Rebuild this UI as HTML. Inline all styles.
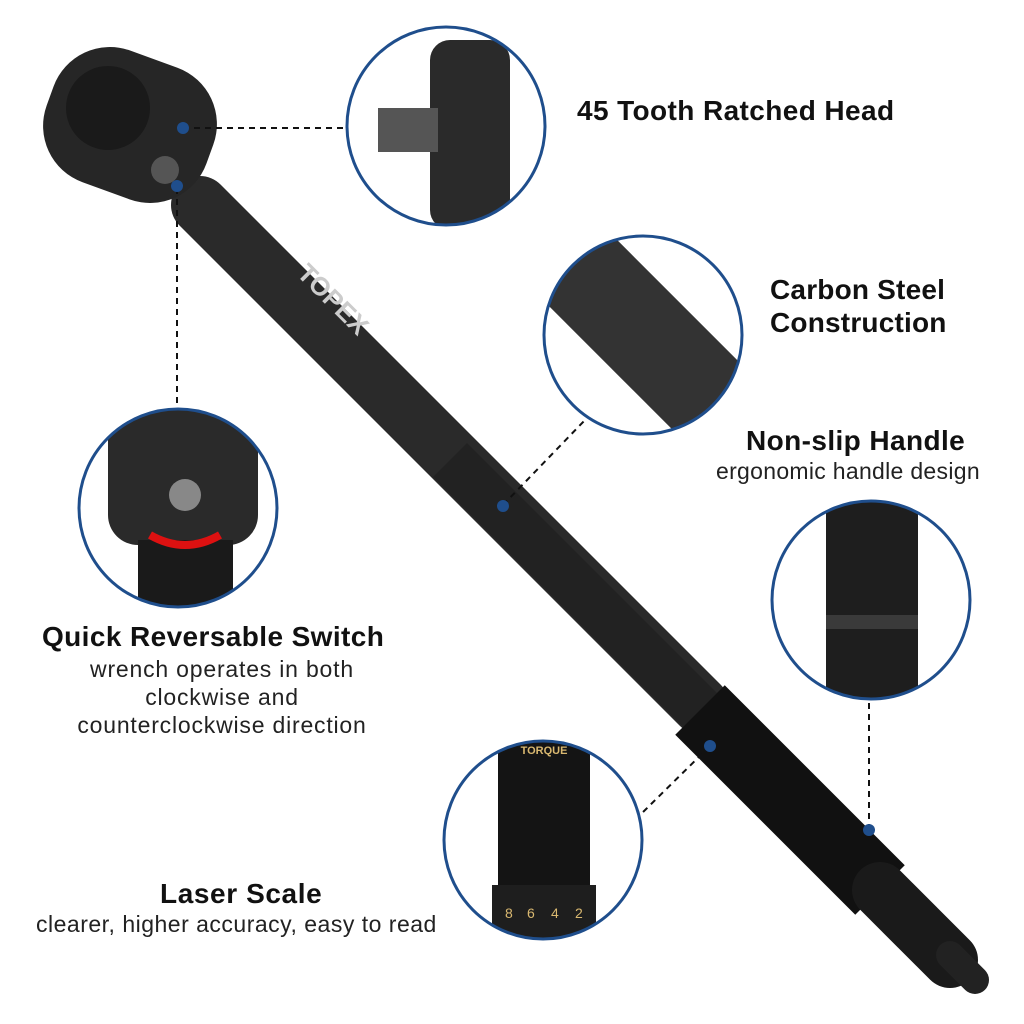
<!DOCTYPE html>
<html><head><meta charset="utf-8"><style>
body{margin:0;background:#fff;}
.t{position:absolute;font-family:"Liberation Sans",sans-serif;color:#111;white-space:nowrap;}
.b{font-weight:bold;font-size:28px;letter-spacing:0.9px;}
.s{font-size:23px;color:#222;letter-spacing:0.8px;}
</style></head><body>
<div style="position:relative;width:1024px;height:1024px;overflow:hidden">
<svg width="1024" height="1024" style="position:absolute;left:0;top:0">
<defs>
<clipPath id="c1"><circle cx="446" cy="126" r="99"/></clipPath>
<clipPath id="c2"><circle cx="643" cy="335" r="99"/></clipPath>
<clipPath id="c3"><circle cx="178" cy="508" r="99"/></clipPath>
<clipPath id="c4"><circle cx="871" cy="600" r="99"/></clipPath>
<clipPath id="c5"><circle cx="543" cy="840" r="99"/></clipPath>
</defs>
<line x1="200" y1="205" x2="700" y2="705" stroke="#2a2a2a" stroke-width="58" stroke-linecap="round"/>
<line x1="450" y1="460" x2="700" y2="710" stroke="#222" stroke-width="48"/>
<line x1="700" y1="710" x2="880" y2="890" stroke="#111" stroke-width="70"/>
<line x1="880" y1="890" x2="950" y2="960" stroke="#1a1a1a" stroke-width="56" stroke-linecap="round"/>
<line x1="950" y1="955" x2="975" y2="980" stroke="#222" stroke-width="28" stroke-linecap="round"/>
<rect x="45" y="55" width="170" height="140" rx="60" fill="#262626" transform="rotate(20 130 125)"/>
<circle cx="108" cy="108" r="42" fill="#1a1a1a"/>
<circle cx="165" cy="170" r="14" fill="#555"/>
<text x="275" y="295" font-family="Liberation Sans" font-weight="bold" font-size="26" fill="#ccc" transform="rotate(45 310 310)">TOPEX</text>
<g stroke="#111" stroke-width="2" stroke-dasharray="6,5" fill="none">
<line x1="183" y1="128" x2="346" y2="128"/>
<line x1="177" y1="188" x2="177" y2="408"/>
<line x1="503" y1="505" x2="585" y2="420"/>
<line x1="869" y1="830" x2="869" y2="700"/>
<line x1="710" y1="746" x2="640" y2="815"/>
</g>
<g fill="#1f4e8c"><circle cx="183" cy="128" r="6"/><circle cx="177" cy="186" r="6"/><circle cx="503" cy="506" r="6"/><circle cx="869" cy="830" r="6"/><circle cx="710" cy="746" r="6"/></g>
<g clip-path="url(#c1)"><rect x="340" y="20" width="220" height="220" fill="#fff"/><rect x="430" y="40" width="80" height="190" rx="20" fill="#2a2a2a"/><rect x="378" y="108" width="60" height="44" fill="#555"/></g>
<g clip-path="url(#c2)"><rect x="540" y="230" width="220" height="220" fill="#fff"/><line x1="560" y1="250" x2="720" y2="410" stroke="#333" stroke-width="95"/></g>
<g clip-path="url(#c3)"><rect x="75" y="405" width="210" height="210" fill="#fff"/><rect x="108" y="405" width="150" height="140" rx="30" fill="#2a2a2a"/><rect x="138" y="540" width="95" height="80" fill="#1a1a1a"/><circle cx="185" cy="495" r="16" fill="#888"/><path d="M150 535 Q185 555 220 535" stroke="#d11" stroke-width="8" fill="none"/></g>
<g clip-path="url(#c4)"><rect x="770" y="500" width="210" height="210" fill="#fff"/><rect x="826" y="500" width="92" height="210" fill="#1e1e1e"/><rect x="826" y="615" width="92" height="14" fill="#3a3a3a"/></g>
<g clip-path="url(#c5)"><rect x="440" y="740" width="210" height="210" fill="#fff"/><rect x="498" y="740" width="92" height="210" fill="#141414"/><rect x="492" y="885" width="104" height="60" fill="#1e1e1e"/>
<text x="544" y="754" text-anchor="middle" font-family="Liberation Sans" font-size="11" font-weight="bold" fill="#d9b870">TORQUE</text>
<g font-family="Liberation Sans" font-size="14" fill="#d9b870"><text x="505" y="918">8</text><text x="527" y="918">6</text><text x="551" y="918">4</text><text x="575" y="918">2</text></g></g>
<g fill="none" stroke="#1f4e8c" stroke-width="3">
<circle cx="446" cy="126" r="99"/><circle cx="643" cy="335" r="99"/><circle cx="178" cy="508" r="99"/><circle cx="871" cy="600" r="99"/><circle cx="543" cy="840" r="99"/></g>
</svg>
<div class="t b" style="left:577px;top:95px;letter-spacing:0.4px">45 Tooth Ratched Head</div>
<div class="t b" style="left:770px;top:273px;line-height:33px;letter-spacing:0.2px">Carbon Steel<br>Construction</div>
<div class="t b" style="left:746px;top:425px;letter-spacing:0.4px">Non-slip Handle</div>
<div class="t s" style="left:716px;top:458px;letter-spacing:0.3px">ergonomic handle design</div>
<div class="t b" style="left:42px;top:621px;letter-spacing:0.4px">Quick Reversable Switch</div>
<div class="t s" style="left:42px;top:655px;width:360px;text-align:center;line-height:28px">wrench operates in both<br>clockwise and<br>counterclockwise direction</div>
<div class="t b" style="left:160px;top:878px;letter-spacing:0.6px">Laser Scale</div>
<div class="t s" style="left:36px;top:911px;letter-spacing:0.5px">clearer, higher accuracy, easy to read</div>
</div>
</body></html>
